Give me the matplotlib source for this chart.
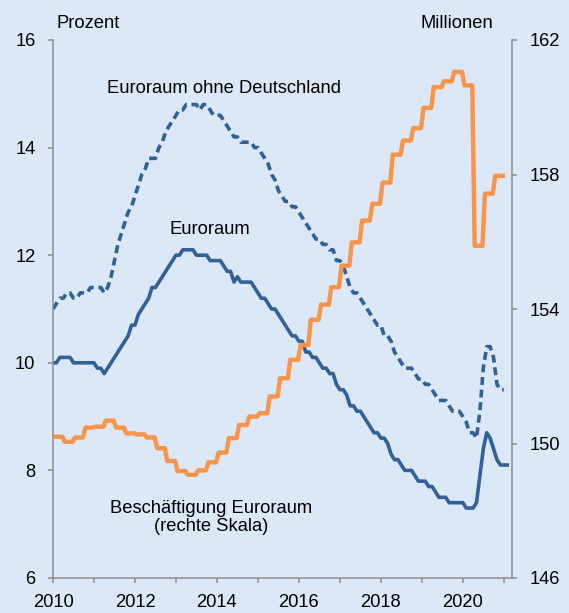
import numpy as np
import matplotlib.pyplot as plt

plt.rcParams['font.family'] = ['Liberation Sans', 'DejaVu Sans']

# Arbeitslosenquote, monatlich ab Jan 2010 (Prozent)
euroraum = [
    10.0, 10.0, 10.1, 10.1, 10.1, 10.1, 10.0, 10.0, 10.0, 10.0,
    10.0, 10.0, 10.0, 9.9, 9.9, 9.8, 9.9, 10.0, 10.1, 10.2,
    10.3, 10.4, 10.5, 10.7, 10.7, 10.9, 11.0, 11.1, 11.2, 11.4,
    11.4, 11.5, 11.6, 11.7, 11.8, 11.9, 12.0, 12.0, 12.1, 12.1,
    12.1, 12.1, 12.0, 12.0, 12.0, 12.0, 11.9, 11.9, 11.9, 11.9,
    11.8, 11.7, 11.7, 11.5, 11.6, 11.5, 11.5, 11.5, 11.5, 11.4,
    11.3, 11.2, 11.2, 11.1, 11.0, 11.0, 10.9, 10.8, 10.7, 10.6,
    10.5, 10.5, 10.4, 10.4, 10.2, 10.2, 10.1, 10.1, 10.0, 9.9,
    9.9, 9.8, 9.8, 9.6, 9.5, 9.5, 9.4, 9.2, 9.2, 9.1,
    9.1, 9.0, 8.9, 8.8, 8.7, 8.7, 8.6, 8.6, 8.5, 8.3,
    8.2, 8.2, 8.1, 8.0, 8.0, 8.0, 7.9, 7.8, 7.8, 7.8,
    7.7, 7.7, 7.6, 7.5, 7.5, 7.5, 7.4, 7.4, 7.4, 7.4,
    7.4, 7.3, 7.3, 7.3, 7.4, 7.9, 8.4, 8.7, 8.6, 8.4,
    8.2, 8.1, 8.1, 8.1,
]
euroraum_ohne_de = [
    11.0, 11.1, 11.2, 11.2, 11.3, 11.3, 11.2, 11.2, 11.3, 11.3,
    11.3, 11.4, 11.4, 11.4, 11.4, 11.3, 11.4, 11.6, 11.9, 12.2,
    12.4, 12.6, 12.8, 12.9, 13.1, 13.3, 13.5, 13.6, 13.8, 13.8,
    13.8, 14.0, 14.1, 14.3, 14.4, 14.5, 14.6, 14.7, 14.7, 14.8,
    14.8, 14.8, 14.8, 14.7, 14.8, 14.8, 14.7, 14.6, 14.6, 14.6,
    14.5, 14.4, 14.3, 14.2, 14.2, 14.1, 14.1, 14.1, 14.1, 14.0,
    14.0, 13.9, 13.8, 13.7, 13.5, 13.4, 13.2, 13.1, 13.0, 13.0,
    12.9, 12.9, 12.8, 12.7, 12.6, 12.5, 12.4, 12.3, 12.3, 12.2,
    12.2, 12.1, 12.1, 11.9, 11.9, 11.8, 11.6, 11.4, 11.3, 11.3,
    11.2, 11.1, 11.0, 10.9, 10.8, 10.7, 10.7, 10.5, 10.5, 10.4,
    10.2, 10.1, 10.0, 9.9, 9.9, 9.9, 9.8, 9.7, 9.7, 9.6,
    9.6, 9.5, 9.4, 9.3, 9.3, 9.3, 9.2, 9.1, 9.1, 9.1,
    9.0, 8.9, 8.7, 8.7, 8.6, 9.1, 9.9, 10.3, 10.3, 10.1,
    9.6, 9.5, 9.5,
]
# Beschaeftigung, quartalsweise 2010Q1-2020Q4 (Millionen)
beschaeftigung = [
    150.2, 150.05, 150.18, 150.47,
    150.5, 150.68, 150.47, 150.3,
    150.27, 150.18, 149.86, 149.48,
    149.18, 149.07, 149.2, 149.44,
    149.73, 150.16, 150.55, 150.8,
    150.9, 151.4, 151.94, 152.49,
    152.93, 153.68, 154.13, 154.65,
    155.29, 155.98, 156.63, 157.13,
    157.76, 158.59, 159.01, 159.38,
    159.98, 160.6, 160.77, 161.05,
    160.65, 155.88, 157.43, 157.96,
]

jahre = np.arange(2010, 2022)
jahr_labels = [str(j) if j % 2 == 0 else '' for j in jahre]

blau = '#30619b'
orange = '#f8954a'
hinter = '#dce8f7'
grau = '#8c8c8c'
fs = 13.2

fig = plt.figure(figsize=(5.69, 6.13), dpi=100, facecolor=hinter)
ax = fig.add_axes([53 / 569, 1 - 578 / 613, (512 - 53) / 569, (578 - 40) / 613])
ax.set_facecolor(hinter)

t1 = 2010 + np.arange(len(euroraum)) / 12
t2 = 2010 + np.arange(len(euroraum_ohne_de)) / 12
ax.plot(t2, euroraum_ohne_de, color=blau, lw=2.6, ls=(0, (2.2, 1.3)))
ax.plot(t1, euroraum, color=blau, lw=2.6)

ax2 = ax.twinx()
q = 2010 + np.arange(len(beschaeftigung)) * 0.25
xs = np.column_stack([q + 0.04, q + 0.23]).ravel()
ys = np.repeat(beschaeftigung, 2)
ax2.plot(xs, ys, color=orange, lw=3.2)

ax.set_xlim(2010, 2021.2)
ax.set_ylim(6, 16)
ax2.set_ylim(146, 162)
ax.set_yticks(range(6, 17, 2))
ax2.set_yticks(range(146, 163, 4))
ax.set_xticks(jahre)
ax.set_xticklabels(jahr_labels)

for a in (ax, ax2):
    a.spines['top'].set_visible(False)
    for s in a.spines.values():
        s.set_color(grau)
        s.set_linewidth(1.1)
    a.tick_params(colors=grau, labelcolor='black', labelsize=fs,
                  length=3.6, width=1.1, pad=8)
ax.spines['right'].set_visible(False)
ax2.spines['left'].set_visible(False)
ax2.spines['bottom'].set_visible(False)
ax.tick_params(axis='y', pad=9)
ax2.tick_params(axis='y', pad=9)

fig.text(56 / 569, 1 - 23 / 613, 'Prozent', fontsize=fs, ha='left', va='center')
fig.text(457 / 569, 1 - 23 / 613, 'Millionen', fontsize=fs, ha='center', va='center')

ax.text(2014.17, 15.09, 'Euroraum ohne Deutschland', fontsize=fs,
        ha='center', va='center')
ax.text(2013.82, 12.47, 'Euroraum', fontsize=fs, ha='center', va='center')
ax.text(2013.85, 7.12, 'Beschäftigung Euroraum\n(rechte Skala)', fontsize=fs,
        ha='center', va='center', multialignment='center', linespacing=1.1)

fig.savefig('out.png', dpi=100, facecolor=hinter)
